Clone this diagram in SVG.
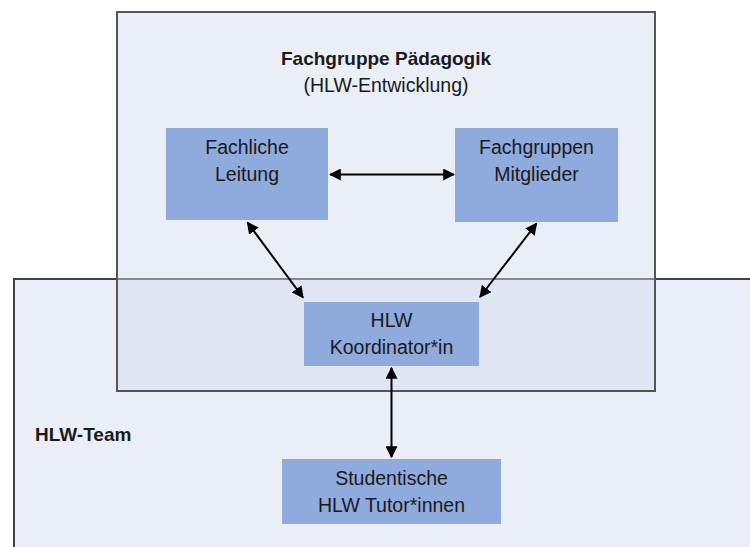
<svg xmlns="http://www.w3.org/2000/svg" width="750" height="547" viewBox="0 0 750 547">
<defs>
<style>
text{font-family:"Liberation Sans",Arial,sans-serif;fill:#1a1a1a;text-anchor:middle}
.t{font-size:19.5px}
.b{font-size:19px;font-weight:bold}
.node{fill:#8FAADC}
.con{stroke:#000;stroke-width:2;fill:none;marker-start:url(#ah);marker-end:url(#ah)}
</style>
<marker id="ah" viewBox="0 0 10 10" refX="9" refY="5" markerWidth="6" markerHeight="6" orient="auto-start-reverse" markerUnits="strokeWidth">
<path d="M0,0 L10,5 L0,10 z" fill="#000"/>
</marker>
</defs>
<rect width="750" height="547" fill="#fff"/>
<g id="hlw-team">
<rect x="14" y="279" width="740" height="275" fill="#EAEEF7" stroke="#3f3f3f" stroke-width="2"/>
<text class="b" x="35" y="441" style="text-anchor:start">HLW-Team</text>
</g>
<g id="fachgruppe">
<rect x="117" y="12" width="538" height="379" fill="rgb(211,220,238)" fill-opacity="0.48" stroke="#555" stroke-width="2"/>
<text class="b" x="386" y="65">Fachgruppe Pädagogik</text>
<text class="t" x="386" y="92">(HLW-Entwicklung)</text>
</g>
<g id="fachliche-leitung">
<rect class="node" x="166" y="128" width="162" height="92"/>
<text class="t" x="247" y="154">Fachliche</text>
<text class="t" x="247" y="181">Leitung</text>
</g>
<g id="fachgruppen-mitglieder">
<rect class="node" x="455" y="128" width="163" height="94"/>
<text class="t" x="536.5" y="154">Fachgruppen</text>
<text class="t" x="536.5" y="181">Mitglieder</text>
</g>
<g id="koordinator">
<rect class="node" x="304" y="302" width="175" height="64"/>
<text class="t" x="391.5" y="327">HLW</text>
<text class="t" x="391.5" y="354">Koordinator*in</text>
</g>
<g id="tutoren">
<rect class="node" x="282" y="459" width="219" height="65"/>
<text class="t" x="391.5" y="485">Studentische</text>
<text class="t" x="391.5" y="512">HLW Tutor*innen</text>
</g>
<g id="connectors">
<line class="con" x1="330" y1="174.5" x2="454" y2="174.5"/>
<line class="con" x1="247.5" y1="222.5" x2="303" y2="297.5"/>
<line class="con" x1="536.5" y1="223.5" x2="480" y2="297"/>
<line class="con" x1="391.5" y1="368" x2="391.5" y2="457"/>
</g>
</svg>
